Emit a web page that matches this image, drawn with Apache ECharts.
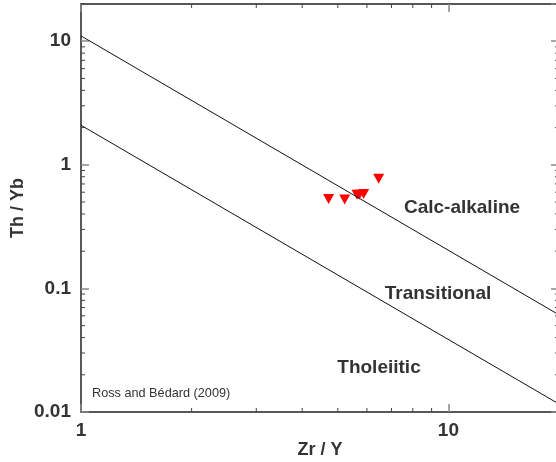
<!DOCTYPE html>
<html>
<head>
<meta charset="utf-8">
<script src="https://cdn.jsdelivr.net/npm/echarts@6/dist/echarts.min.js"></script>
<style>html,body{margin:0;padding:0;background:#fff}#c{width:556px;height:462px}</style>
</head>
<body>
<div id="c"></div>
<script>
// Data
const zrY = [4.72, 5.22, 5.64, 5.72, 5.88, 6.46];
const thYb = [0.528, 0.525, 0.573, 0.573, 0.58, 0.773];
// Boundary lines (endpoints)
const upperLineX = [1, 20];
const upperLineY = [11.04, 0.0611];
const lowerLineX = [1, 20];
const lowerLineY = [2.09, 0.0116];
// Axis ranges and minor ticks
const xRange = [1, 20];
const yRange = [0.01, 20];
const xMinorTicks = [2, 3, 4, 5, 6, 7, 8, 9, 20];
const yMinorTicks = [0.02,0.03,0.04,0.05,0.06,0.07,0.08,0.09,0.2,0.3,0.4,0.5,0.6,0.7,0.8,0.9,2,3,4,5,6,7,8,9,20];
const regionLabels = ['Calc-alkaline', 'Transitional', 'Tholeiitic'];
const sourceLabel = 'Ross and Bédard (2009)';

const font = 'Arial, "Liberation Sans", sans-serif';
const chart = echarts.init(document.getElementById('c'), null, {renderer: 'canvas'});

const tickData = [];
xMinorTicks.forEach(v => tickData.push([v, 'x']));
yMinorTicks.forEach(v => tickData.push([v, 'y']));

function renderTick(params, api) {
  const v = tickData[params.dataIndex][0];
  const kind = tickData[params.dataIndex][1];
  const L = 4;
  const style = {stroke: '#444', lineWidth: 1};
  if (kind === 'x') {
    const b = api.coord([v, yRange[0]]);
    const t = api.coord([v, yRange[1]]);
    return {type: 'group', children: [
      {type: 'line', shape: {x1: b[0], y1: b[1], x2: b[0], y2: b[1] - L}, style},
      {type: 'line', shape: {x1: t[0], y1: t[1], x2: t[0], y2: t[1] + L}, style}
    ]};
  } else {
    const l = api.coord([xRange[0], v]);
    const r = api.coord([xRange[1], v]);
    return {type: 'group', children: [
      {type: 'line', shape: {x1: l[0], y1: l[1], x2: l[0] + L, y2: l[1]}, style},
      {type: 'line', shape: {x1: r[0], y1: r[1], x2: r[0] - L, y2: r[1]}, style}
    ]};
  }
}

const axisLine = {show: true, lineStyle: {color: '#222', width: 1.5}};
const majorTick = {show: true, inside: true, length: 8, lineStyle: {color: '#888', width: 1.5}};

chart.setOption({
  animation: false,
  backgroundColor: '#fff',
  grid: {left: 81, top: 4, width: 478, bottom: 50, containLabel: false, outerBoundsMode: 'none'},
  xAxis: [{
    type: 'log', logBase: 10, min: xRange[0], max: xRange[1],
    position: 'bottom',
    name: 'Zr / Y', nameLocation: 'middle', nameGap: 29, nameMoveOverlap: false,
    nameTextStyle: {fontFamily: font, fontWeight: 'bold', fontSize: 18, color: '#333'},
    axisLine, axisTick: majorTick, splitLine: {show: false},
    axisLabel: {fontFamily: font, fontWeight: 'bold', fontSize: 19, color: '#333', margin: 9, showMaxLabel: false}
  }, {
    type: 'log', logBase: 10, min: xRange[0], max: xRange[1],
    position: 'top', axisLine, axisTick: majorTick, axisLabel: {show: false}, splitLine: {show: false}
  }],
  yAxis: [{
    type: 'log', logBase: 10, min: yRange[0], max: yRange[1],
    position: 'left',
    name: 'Th / Yb', nameLocation: 'middle', nameGap: 54, nameRotate: 90, nameMoveOverlap: false,
    nameTextStyle: {fontFamily: font, fontWeight: 'bold', fontSize: 18, color: '#333'},
    axisLine, axisTick: majorTick, splitLine: {show: false},
    axisLabel: {fontFamily: font, fontWeight: 'bold', fontSize: 19, color: '#333', margin: 10,
      showMaxLabel: false, formatter: v => String(v)}
  }, {
    type: 'log', logBase: 10, min: yRange[0], max: yRange[1],
    position: 'right', axisLine, axisTick: majorTick, axisLabel: {show: false}, splitLine: {show: false}
  }],
  series: [
    {type: 'line', data: upperLineX.map((x, i) => [x, upperLineY[i]]), symbol: 'none',
      lineStyle: {color: '#111', width: 1}, silent: true},
    {type: 'line', data: lowerLineX.map((x, i) => [x, lowerLineY[i]]), symbol: 'none',
      lineStyle: {color: '#111', width: 1}, silent: true},
    {type: 'custom', renderItem: renderTick, data: tickData.map(d => [d[0]]), silent: true, clip: false},
    {type: 'scatter', data: zrY.map((x, i) => [x, thYb[i]]), symbol: 'triangle', symbolRotate: 180,
      symbolSize: [11, 10], itemStyle: {color: '#ff0000', opacity: 1}}
  ],
  graphic: [
    {type: 'text', x: 462, y: 208, style: {text: regionLabels[0], font: 'bold 19px ' + font, fill: '#333', align: 'center', verticalAlign: 'middle'}},
    {type: 'text', x: 438, y: 294, style: {text: regionLabels[1], font: 'bold 19px ' + font, fill: '#333', align: 'center', verticalAlign: 'middle'}},
    {type: 'text', x: 379, y: 368, style: {text: regionLabels[2], font: 'bold 19px ' + font, fill: '#333', align: 'center', verticalAlign: 'middle'}},
    {type: 'text', x: 92, y: 393, style: {text: sourceLabel, font: '12.7px ' + font, fill: '#333', align: 'left', verticalAlign: 'middle'}}
  ]
});
</script>
</body>
</html>
